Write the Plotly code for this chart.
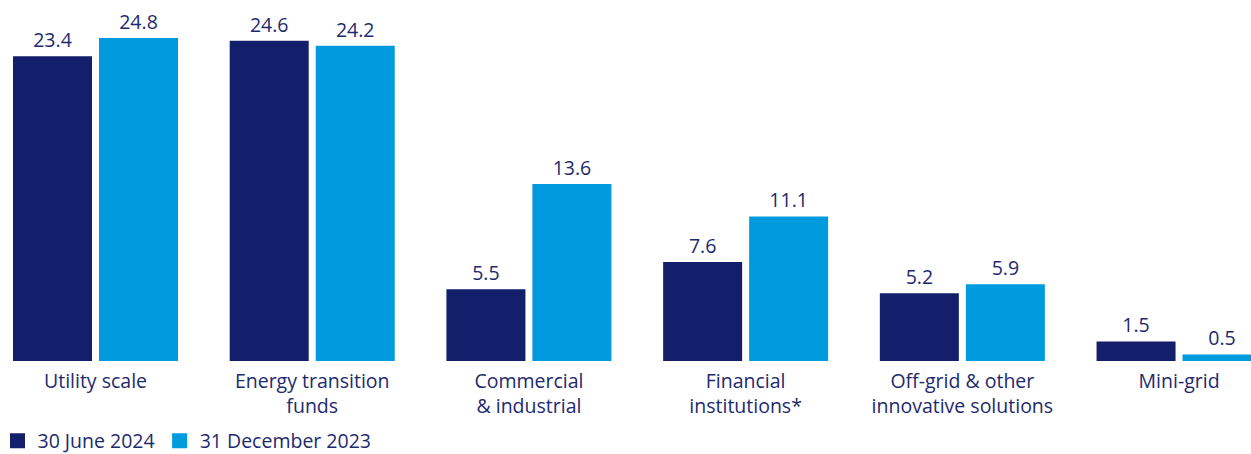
import plotly.graph_objects as go

# Portfolio by segment, two reporting dates
categories = [
    "Utility scale",
    "Energy transition<br>funds",
    "Commercial<br>& industrial",
    "Financial<br>institutions*",
    "Off-grid & other<br>innovative solutions",
    "Mini-grid",
]
june_2024 = [23.4, 24.6, 5.5, 7.6, 5.2, 1.5]
dec_2023 = [24.8, 24.2, 13.6, 11.1, 5.9, 0.5]
series_names = ["30 June 2024", "31 December 2023"]

DARK = "#141f6b"
LIGHT = "#009ade"
TEXT = "#1e2a6e"
FONT = "Open Sans"
FS = 19.5

fig = go.Figure()
for name, vals, col in [(series_names[0], june_2024, DARK), (series_names[1], dec_2023, LIGHT)]:
    fig.add_trace(go.Bar(
        x=categories, y=vals, name=name, marker=dict(color=col, line=dict(width=0)),
        text=[f"{v:.1f}" for v in vals], textposition="outside",
        textfont=dict(family=FONT, size=FS, color=TEXT),
        cliponaxis=False, showlegend=False,
    ))
    # legend swatch
    fig.add_trace(go.Scatter(
        x=[None], y=[None], mode="markers", name=name,
        marker=dict(symbol="square", size=15, color=col),
    ))

fig.update_layout(
    width=1251, height=454,
    margin=dict(l=0, r=0, t=0, b=93, autoexpand=False),
    paper_bgcolor="white", plot_bgcolor="white",
    barmode="group", bargap=0.2063, bargroupgap=0.0814,
    font=dict(family=FONT, size=FS, color=TEXT),
    showlegend=True,
    legend=dict(orientation="h", x=-0.002, xanchor="left", y=-0.168, yanchor="top",
                font=dict(family=FONT, size=FS, color=TEXT), itemwidth=30,
                bgcolor="rgba(0,0,0,0)"),
    xaxis=dict(range=[-0.4407, 5.332], showgrid=False, showline=False, zeroline=False,
               ticks="", ticklabelstandoff=6,
               tickfont=dict(family=FONT, size=FS, color=TEXT), fixedrange=True,
               automargin=False),
    yaxis=dict(range=[0, 27.72], visible=False, showgrid=False, zeroline=False, fixedrange=True,
               automargin=False),
)

fig.write_html("out.html")
